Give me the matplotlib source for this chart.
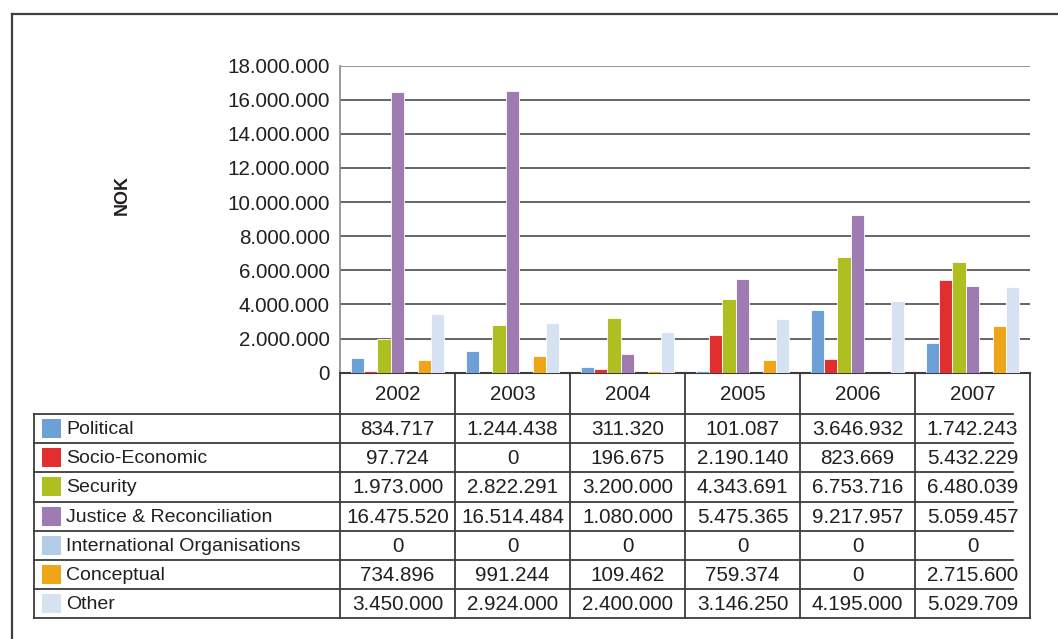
import matplotlib
matplotlib.use("Agg")
import matplotlib.pyplot as plt
from matplotlib.lines import Line2D
from matplotlib.patches import Rectangle
import numpy as np

plt.rcParams['font.family'] = ['Liberation Sans', 'DejaVu Sans']

years = ['2002', '2003', '2004', '2005', '2006', '2007']
categories = ['Political', 'Socio-Economic', 'Security', 'Justice & Reconciliation',
              'International Organisations', 'Conceptual', 'Other']
political = [834717, 1244438, 311320, 101087, 3646932, 1742243]
socio_economic = [97724, 0, 196675, 2190140, 823669, 5432229]
security = [1973000, 2822291, 3200000, 4343691, 6753716, 6480039]
justice = [16475520, 16514484, 1080000, 5475365, 9217957, 5059457]
international = [0, 0, 0, 0, 0, 0]
conceptual = [734896, 991244, 109462, 759374, 0, 2715600]
other = [3450000, 2924000, 2400000, 3146250, 4195000, 5029709]
series = [political, socio_economic, security, justice, international, conceptual, other]
colors = ['#6ca0d6', '#e32e2f', '#afbf22', '#9e7bb0', '#b3cde9', '#eea618', '#d6e1f2']
yticks = [0, 2000000, 4000000, 6000000, 8000000, 10000000, 12000000, 14000000, 16000000, 18000000]

W, H = 1058, 639
fig = plt.figure(figsize=(W / 100, H / 100), dpi=100)
txt = '#231f20'
line_c = '#3c3c3c'
num_fs = 14.9

def fmt(v):
    return f"{v:,}".replace(',', '.')

# plot area in pixels
px_l, px_r, px_t, px_b = 340, 1030, 65.5, 372.7
ax = fig.add_axes([px_l / W, 1 - px_b / H, (px_r - px_l) / W, (px_b - px_t) / H])
n = len(series)
bw = 0.116
x = np.arange(len(years))
for i, (vals, c) in enumerate(zip(series, colors)):
    ax.bar(x + (i - (n - 1) / 2) * bw, vals, width=bw, color=c,
           edgecolor='white', linewidth=0.6, zorder=3)
ax.set_xlim(-0.5, len(years) - 0.5)
ax.set_ylim(0, 18000000)
ax.set_yticks(yticks)
ax.set_yticklabels([fmt(v) for v in yticks], fontsize=num_fs, color=txt)
ax.tick_params(axis='y', length=0, pad=7.5)
ax.set_xticks([])
for v in yticks[1:]:
    ax.axhline(v, color=line_c if v < 18000000 else '#7a7a7a', linewidth=1.1, zorder=1)
for s in ['top', 'right']:
    ax.spines[s].set_visible(False)
ax.spines['left'].set_color('#8a8a8a')
ax.spines['left'].set_linewidth(1.2)
ax.spines['bottom'].set_color(line_c)
ax.spines['bottom'].set_linewidth(1.5)

# overlay for table and frame
ov = fig.add_axes([0, 0, 1, 1], zorder=5)
ov.set_xlim(0, W)
ov.set_ylim(H, 0)
ov.axis('off')
ov.patch.set_alpha(0)

# outer frame
ov.add_line(Line2D([12, 12], [14, H], color='#404040', linewidth=1.6))
ov.add_line(Line2D([12, W], [14, 14], color='#404040', linewidth=1.6))

# NOK label
ov.text(122, 195, 'NOK', rotation=90, ha='center', va='center', fontsize=13,
        fontweight='bold', color=txt)

# table geometry
col_x = [340 + 115 * i for i in range(len(years))] + [1030]
head_top, head_bot = 372.7, 414
row_h = (618.3 - 414) / len(categories)
row_y = [head_bot + row_h * i for i in range(len(categories) + 1)]
lw = 1.3

# vertical lines
for cx in col_x[:-1]:
    ov.add_line(Line2D([cx, cx], [head_top, row_y[-1]], color=line_c, linewidth=lw))
ov.add_line(Line2D([1030, 1030], [head_top, row_y[-1]], color=line_c, linewidth=lw))
ov.add_line(Line2D([34, 34], [row_y[0], row_y[-1]], color=line_c, linewidth=lw))
# horizontal lines
for k, ry in enumerate(row_y):
    xr = 1030 if k == len(row_y) - 1 else 1013
    ov.add_line(Line2D([34, xr], [ry, ry], color=line_c, linewidth=lw))

# header
for j, yr in enumerate(years):
    cx = (col_x[j] + col_x[j + 1]) / 2
    ov.text(cx, (head_top + head_bot) / 2 + 1, yr, ha='center', va='center',
            fontsize=num_fs, color=txt)

# rows
for i, (cat, vals, c) in enumerate(zip(categories, series, colors)):
    cy = (row_y[i] + row_y[i + 1]) / 2
    ov.add_patch(Rectangle((41.7, cy - 9.5), 19.3, 19, facecolor=c, edgecolor='none'))
    ov.text(66, cy + 1, cat, ha='left', va='center', fontsize=14, color=txt)
    for j, v in enumerate(vals):
        cx = (col_x[j] + col_x[j + 1]) / 2
        ov.text(cx, cy + 1, fmt(v), ha='center', va='center', fontsize=num_fs, color=txt)

fig.savefig('out.png', dpi=100)
